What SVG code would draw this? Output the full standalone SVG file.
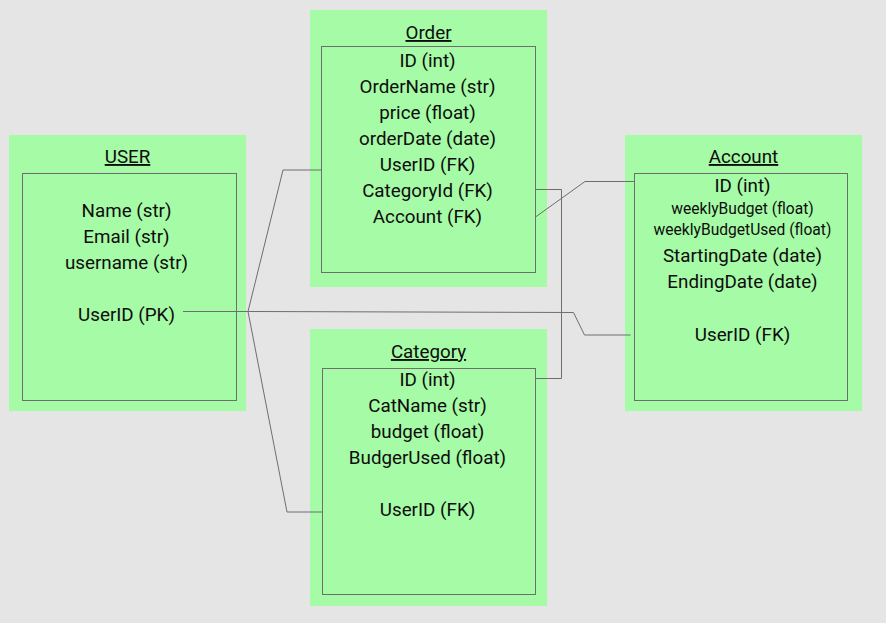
<svg xmlns="http://www.w3.org/2000/svg" width="886" height="623" viewBox="0 0 886 623">
<style>
.bg{fill:#e5e5e5}
.outer{fill:#a6fba6}
.inner{fill:none;stroke:#6e6e6e;stroke-width:1}
text{font-family:Roboto,"Liberation Sans",sans-serif;font-size:18.8px;fill:#0d0d0d;text-anchor:middle}
.title{text-decoration:underline}
.small{font-size:15.6px}
.conn{fill:none;stroke:#6e6e6e;stroke-width:1}
</style>
<rect class="bg" x="0" y="0" width="886" height="623"/>
<g id="user">
<rect class="outer" x="9" y="135" width="237" height="276"/>
<rect class="inner" x="22.5" y="173.5" width="214" height="227"/>
<text class="title" x="127.5" y="163">USER</text>
<text x="126.5" y="217">Name (str)</text>
<text x="126.5" y="243">Email (str)</text>
<text x="126.5" y="269">username (str)</text>
<text x="126.5" y="321">UserID (PK)</text>
</g>
<g id="order">
<rect class="outer" x="310" y="10" width="237" height="277"/>
<rect class="inner" x="321.5" y="46.5" width="214" height="226"/>
<text class="title" x="428.5" y="39">Order</text>
<text x="427.5" y="66.5">ID (int)</text>
<text x="427.5" y="92.5">OrderName (str)</text>
<text x="427.5" y="118.5">price (float)</text>
<text x="427.5" y="144.5">orderDate (date)</text>
<text x="427.5" y="170.5">UserID (FK)</text>
<text x="427.5" y="196.5">CategoryId (FK)</text>
<text x="427.5" y="222.5">Account (FK)</text>
</g>
<g id="account">
<rect class="outer" x="625" y="135" width="237" height="276"/>
<rect class="inner" x="634.5" y="173.5" width="213" height="227"/>
<text class="title" x="743.5" y="163">Account</text>
<text x="742.5" y="191.5">ID (int)</text>
<text class="small" x="742.5" y="213.5">weeklyBudget (float)</text>
<text class="small" x="742.5" y="235">weeklyBudgetUsed (float)</text>
<text x="742.5" y="262">StartingDate (date)</text>
<text x="742.5" y="288">EndingDate (date)</text>
<text x="742.5" y="340.5">UserID (FK)</text>
</g>
<g id="category">
<rect class="outer" x="310" y="329" width="237" height="277"/>
<rect class="inner" x="322.5" y="368.5" width="213" height="226"/>
<text class="title" x="428.5" y="358">Category</text>
<text x="427.5" y="385.5">ID (int)</text>
<text x="427.5" y="411.5">CatName (str)</text>
<text x="427.5" y="437.5">budget (float)</text>
<text x="427.5" y="463.5">BudgerUsed (float)</text>
<text x="427.5" y="515.5">UserID (FK)</text>
</g>
<g id="connectors">
<path class="conn" d="M183,311.5 L248,311.5 L283,170 L321.5,170"/>
<path class="conn" d="M248,311.5 L287,512 L322.5,512"/>
<path class="conn" d="M248,311.5 L573.5,312.5 L584.5,335 L630.5,335"/>
<path class="conn" d="M535.5,189.5 L561.5,189.5 L561.5,378.5 L535.5,378.5"/>
<path class="conn" d="M535.5,217 L585,181.5 L634.5,181.5"/>
</g>
</svg>
